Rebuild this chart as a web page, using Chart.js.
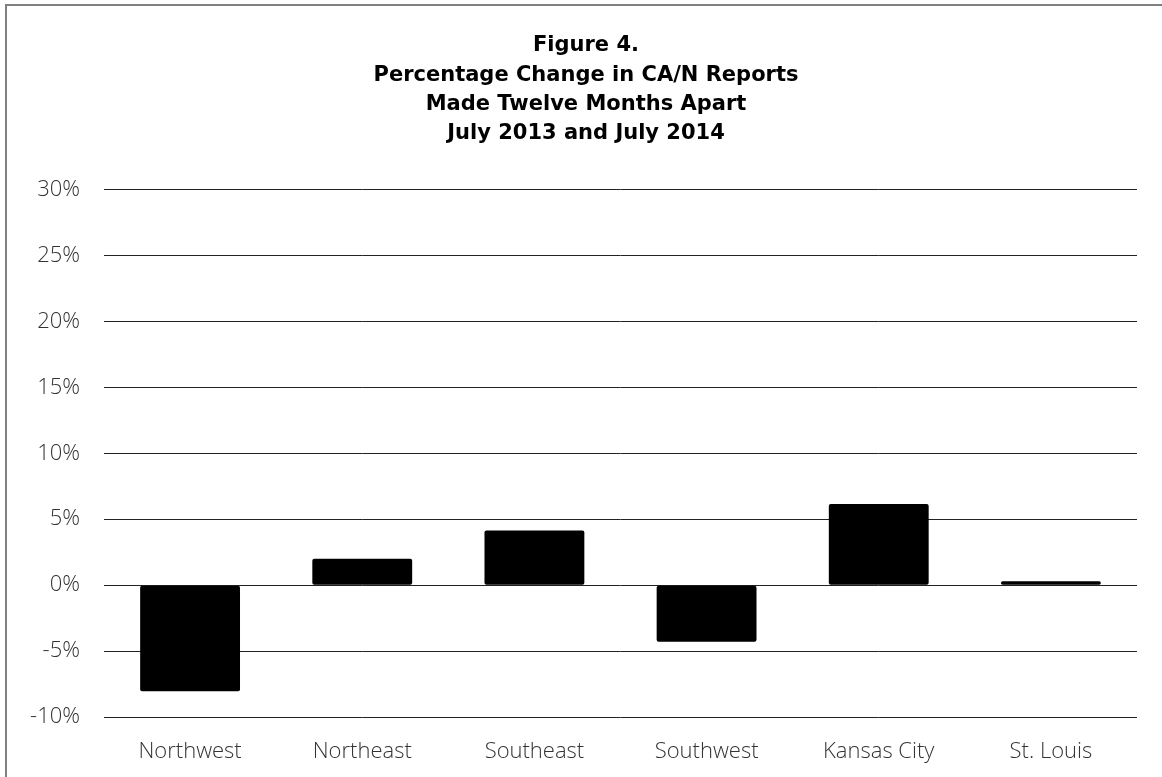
<!DOCTYPE html>
<html>
<head>
<meta charset="utf-8">
<script src="https://cdn.jsdelivr.net/npm/chart.js@4"></script>
<style>
  html, body { margin: 0; padding: 0; background: #fff; }
  #wrap { position: relative; width: 1162px; height: 777px; overflow: hidden; }
  #frame { position: absolute; left: 5px; top: 4px; width: 1300px; height: 900px; border: 2px solid #808080; box-sizing: border-box; }
  canvas { position: absolute; left: 0; top: 0; }
</style>
</head>
<body>
<div id="wrap">
  <div id="frame"></div>
  <canvas id="c" width="1162" height="777"></canvas>
</div>
<script>
const titleLines = ["Figure 4.", "Percentage Change in CA/N Reports", "Made Twelve Months Apart", "July 2013 and July 2014"];
const categories = ["Northwest", "Northeast", "Southeast", "Southwest", "Kansas City", "St. Louis"];
const pctChange = [-8.05, 2.0, 4.15, -4.3, 6.15, 0.3];
const yMin = -10, yMax = 30, yStep = 5;

const labelFont = { family: 'Open Sans', weight: 300, size: 22 };

new Chart(document.getElementById('c'), {
  type: 'bar',
  data: {
    labels: categories,
    datasets: [{
      data: pctChange,
      yAxisID: 'y',
      backgroundColor: '#000',
      borderColor: '#000',
      borderWidth: 0,
      borderRadius: 2,
      borderSkipped: false,
      barPercentage: 0.58,
      categoryPercentage: 1.0
    }]
  },
  options: {
    responsive: false,
    animation: false,
    layout: { padding: { left: 10, right: 0, top: 20, bottom: 0 } },
    plugins: {
      legend: { display: false },
      tooltip: { enabled: false },
      title: {
        display: true,
        text: titleLines,
        color: '#000',
        font: { family: 'DejaVu Sans', weight: 'bold', size: 21, lineHeight: 1.4 },
        padding: { top: 11, bottom: 41 }
      }
    },
    scales: {
      x: {
        grid: { display: false, drawTicks: false },
        border: { display: false },
        afterFit: s => { s.height = 60; },
        ticks: { color: '#333', padding: 22, font: labelFont }
      },
      y: {
        position: 'left',
        min: yMin, max: yMax,
        grid: { color: '#222', lineWidth: 1, drawTicks: false },
        border: { display: false },
        afterFit: s => { s.width = 94; },
        ticks: {
          stepSize: yStep,
          color: '#333',
          padding: 24,
          font: labelFont,
          callback: v => v + '%'
        }
      },
      yRight: {
        position: 'right',
        grid: { display: false, drawTicks: false },
        border: { display: false },
        ticks: { display: false },
        afterFit: s => { s.width = 25; }
      }
    }
  }
});
</script>
</body>
</html>
